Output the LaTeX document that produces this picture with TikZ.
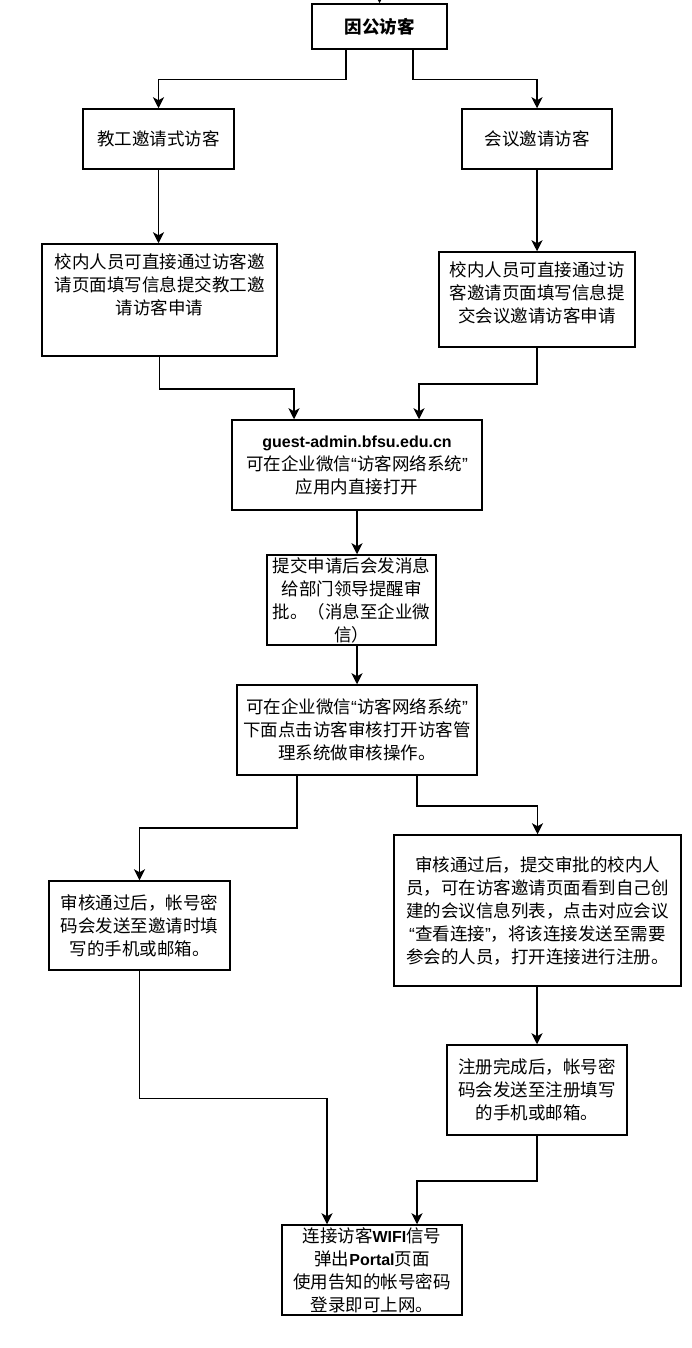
\documentclass[tikz,border=0pt]{standalone}
\usepackage{fontspec}
\setmainfont{Noto Sans CJK SC}
\newfontfamily\lat{Liberation Sans}
\usetikzlibrary{arrows.meta}
\newcommand\qopen{{\lat “}}
\newcommand\qclose{{\lat ”}}
\newcommand\latb[1]{{\lat\bfseries\fontsize{16}{23}\selectfont #1}}
\tikzset{
  box/.style={draw=black, line width=1.5pt, rectangle, align=center, inner sep=2pt,
    font=\fontsize{17.5}{23}\selectfont, text=black},
  arr/.style={draw=black, line width=1.5pt, -{Stealth[length=11pt,width=11pt,inset=3pt]}}
}
\begin{document}
\begin{tikzpicture}[x=1pt,y=-1pt]
\useasboundingbox[fill=white] (0,0) rectangle (691,1348);

\node[box, minimum width=135, minimum height=45, font=\fontsize{17.5}{23}\selectfont\bfseries] (top) at (379.5,26.5) {因公访客};
\node[box, minimum width=151, minimum height=60] (jg) at (158.5,139) {教工邀请式访客};
\node[box, minimum width=150, minimum height=60] (hy) at (537,139) {会议邀请访客};
\node[box, minimum width=235, minimum height=112] (b3) at (159.5,300) {校内人员可直接通过访客邀\\请页面填写信息提交教工邀\\请访客申请\\[9pt]\mbox{}};
\node[box, minimum width=196, minimum height=95] (b4) at (537,299.5) {校内人员可直接通过访\\客邀请页面填写信息提\\交会议邀请访客申请\\[-9pt]\mbox{}};
\node[box, minimum width=250, minimum height=90] (guest) at (357,465) {\latb{guest-admin.bfsu.edu.cn}\\可在企业微信\qopen 访客网络系统\qclose\\应用内直接打开};
\node[box, minimum width=169, minimum height=90] (sub) at (351.5,600) {提交申请后会发消息\\给部门领导提醒审\\批。（消息至企业微\\信）};
\node[box, minimum width=240, minimum height=90] (rev) at (357,730) {可在企业微信\qopen 访客网络系统\qclose\\下面点击访客审核打开访客管\\理系统做审核操作。};
\node[box, minimum width=181, minimum height=89] (lb) at (139.5,925.5) {审核通过后，帐号密\\码会发送至邀请时填\\写的手机或邮箱。};
\node[box, minimum width=287, minimum height=151] (rb) at (537.5,910.5) {审核通过后，提交审批的校内人\\员，可在访客邀请页面看到自己创\\建的会议信息列表，点击对应会议\\\qopen 查看连接\qclose，将该连接发送至需要\\参会的人员，打开连接进行注册。};
\node[box, minimum width=180, minimum height=90] (reg) at (537,1090) {注册完成后，帐号密\\码会发送至注册填写\\的手机或邮箱。};
\node[box, minimum width=180, minimum height=90] (fin) at (372,1270) {连接访客\latb{WIFI}信号\\弹出\latb{Portal}页面\\使用告知的帐号密码\\登录即可上网。};

\coordinate (in) at (379.5,-14);
\draw[arr] (in) -- (top.north);
\draw[arr] ([xshift=-33.5pt]top.south) -- ++(0,30) -| (jg.north);
\draw[arr] ([xshift=33.5pt]top.south) -- ++(0,30) -| (hy.north);
\draw[arr] (jg.south) -- (jg.south |- b3.north);
\draw[arr] (hy.south) -- (hy.south |- b4.north);
\draw[arr] (b3.south) -- ++(0,32) -| ([xshift=-63pt]guest.north);
\draw[arr] (b4.south) -- ++(0,36) -| ([xshift=62pt]guest.north);
\draw[arr] (guest.south) -- (guest.south |- sub.north);
\draw[arr] (sub.south -| rev.north) -- (rev.north);
\draw[arr] ([xshift=-60pt]rev.south) -- ++(0,52) -| (lb.north);
\draw[arr] ([xshift=60pt]rev.south) -- ++(0,30) -| (rb.north);
\draw[arr] (reg.north |- rb.south) -- (reg.north);
\draw[arr] (lb.south) -- ++(0,127.5) -| ([xshift=-45pt]fin.north);
\draw[arr] (reg.south) -- ++(0,45) -| ([xshift=45pt]fin.north);
\end{tikzpicture}
\end{document}
